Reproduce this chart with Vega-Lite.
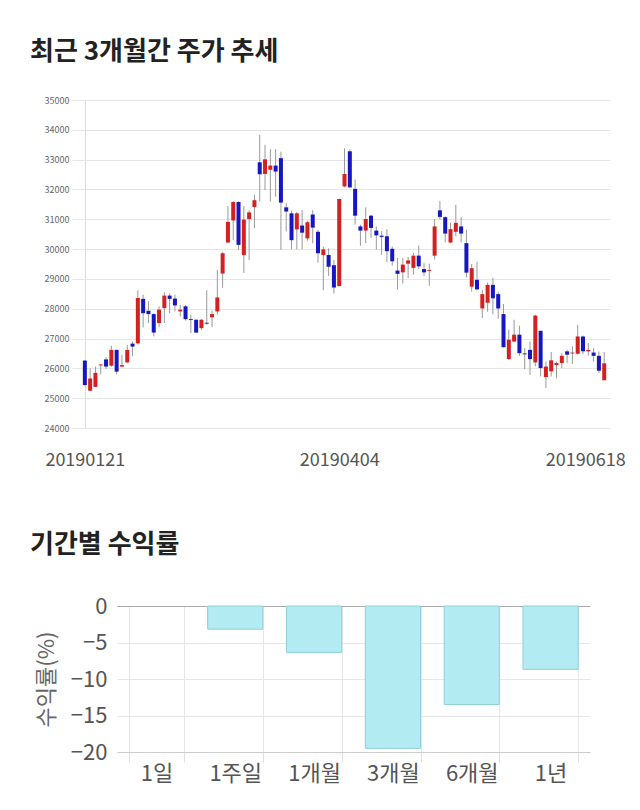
{
  "$schema": "https://vega.github.io/schema/vega-lite/v6.json",
  "padding": {"left": 30, "top": 39, "right": 0, "bottom": 10},
  "autosize": {"type": "pad"},
  "background": "white",
  "config": {"view": {"stroke": null}, "font": "Noto Sans CJK KR"},
  "spacing": 63,
  "vconcat": [
    {
      "title": {"text": "최근 3개월간 주가 추세", "anchor": "start", "frame": "group", "fontSize": 26, "fontWeight": "bold", "color": "#222", "dx": -42, "offset": 31},
      "width": 538,
      "height": 328,
      "data": {"values": [
        {"i":0,"o":26260,"h":26280,"l":25420,"c":25440},
        {"i":1,"o":25250,"h":26000,"l":25240,"c":25660},
        {"i":2,"o":25380,"h":26060,"l":25370,"c":25850},
        {"i":3,"o":26100,"h":26140,"l":25800,"c":26130},
        {"i":4,"o":26300,"h":26370,"l":25980,"c":26060},
        {"i":5,"o":26090,"h":26760,"l":26050,"c":26620},
        {"i":6,"o":26620,"h":26620,"l":25800,"c":25890},
        {"i":7,"o":26060,"h":26450,"l":26030,"c":26110},
        {"i":8,"o":26200,"h":26790,"l":26170,"c":26620},
        {"i":9,"o":26830,"h":26900,"l":26400,"c":26730},
        {"i":10,"o":26840,"h":28620,"l":26800,"c":28360},
        {"i":11,"o":28330,"h":28470,"l":27370,"c":27850},
        {"i":12,"o":27930,"h":28250,"l":27520,"c":27820},
        {"i":13,"o":27820,"h":27850,"l":27070,"c":27200},
        {"i":14,"o":27520,"h":28080,"l":27380,"c":27970},
        {"i":15,"o":28020,"h":28550,"l":27520,"c":28440},
        {"i":16,"o":28440,"h":28510,"l":27850,"c":28330},
        {"i":17,"o":28340,"h":28470,"l":27910,"c":28110},
        {"i":18,"o":27910,"h":28130,"l":27740,"c":27970},
        {"i":19,"o":28080,"h":28130,"l":27600,"c":27650},
        {"i":20,"o":27650,"h":27800,"l":27180,"c":27620},
        {"i":21,"o":27630,"h":27650,"l":27180,"c":27200},
        {"i":22,"o":27350,"h":27650,"l":27290,"c":27630},
        {"i":23,"o":27530,"h":28620,"l":27460,"c":27500},
        {"i":24,"o":27710,"h":27940,"l":27380,"c":27820},
        {"i":25,"o":27910,"h":29300,"l":27800,"c":28380},
        {"i":26,"o":29180,"h":29900,"l":28700,"c":29860},
        {"i":27,"o":30220,"h":31440,"l":30200,"c":30910},
        {"i":28,"o":30960,"h":31600,"l":30300,"c":31580},
        {"i":29,"o":31580,"h":31600,"l":29970,"c":30140},
        {"i":30,"o":29800,"h":31440,"l":29200,"c":30990},
        {"i":31,"o":31010,"h":31300,"l":29630,"c":31230},
        {"i":32,"o":31410,"h":31830,"l":30700,"c":31640},
        {"i":33,"o":32910,"h":33830,"l":31590,"c":32510},
        {"i":34,"o":32520,"h":33500,"l":31980,"c":33010},
        {"i":35,"o":32660,"h":33350,"l":31590,"c":32800},
        {"i":36,"o":32800,"h":33350,"l":31760,"c":32600},
        {"i":37,"o":33050,"h":33270,"l":29970,"c":31560},
        {"i":38,"o":31400,"h":31540,"l":30590,"c":31260},
        {"i":39,"o":31200,"h":31290,"l":29990,"c":30300},
        {"i":40,"o":30660,"h":31250,"l":29990,"c":31200},
        {"i":41,"o":30790,"h":31310,"l":30000,"c":30550},
        {"i":42,"o":30360,"h":30950,"l":30280,"c":30900},
        {"i":43,"o":31160,"h":31310,"l":30190,"c":30720},
        {"i":44,"o":30580,"h":30640,"l":29540,"c":29860},
        {"i":45,"o":29800,"h":30080,"l":28620,"c":29990},
        {"i":46,"o":29800,"h":30020,"l":29100,"c":29410},
        {"i":47,"o":29460,"h":29630,"l":28510,"c":28710},
        {"i":48,"o":28760,"h":31700,"l":28740,"c":31680},
        {"i":49,"o":32100,"h":33380,"l":32070,"c":32520},
        {"i":50,"o":33280,"h":33340,"l":32050,"c":32070},
        {"i":51,"o":32020,"h":32330,"l":30820,"c":31120},
        {"i":52,"o":30760,"h":30820,"l":30110,"c":30620},
        {"i":53,"o":30620,"h":31400,"l":30200,"c":31010},
        {"i":54,"o":31120,"h":31150,"l":30370,"c":30710},
        {"i":55,"o":30620,"h":30760,"l":29980,"c":30460},
        {"i":56,"o":30450,"h":30600,"l":29810,"c":30410},
        {"i":57,"o":30430,"h":30670,"l":29560,"c":29930},
        {"i":58,"o":30010,"h":30090,"l":29440,"c":29590},
        {"i":59,"o":29280,"h":29700,"l":28640,"c":29170},
        {"i":60,"o":29220,"h":29700,"l":28840,"c":29480},
        {"i":61,"o":29510,"h":29740,"l":29030,"c":29620},
        {"i":62,"o":29370,"h":29870,"l":29140,"c":29780},
        {"i":63,"o":29780,"h":30120,"l":29330,"c":29420},
        {"i":64,"o":29330,"h":29530,"l":29090,"c":29220},
        {"i":65,"o":29270,"h":29510,"l":28770,"c":29300},
        {"i":66,"o":29780,"h":31010,"l":29650,"c":30760},
        {"i":67,"o":31300,"h":31610,"l":30990,"c":31080},
        {"i":68,"o":31070,"h":31100,"l":30220,"c":30520},
        {"i":69,"o":30220,"h":30880,"l":30200,"c":30670},
        {"i":70,"o":30580,"h":31490,"l":30430,"c":30880},
        {"i":71,"o":30760,"h":31070,"l":30220,"c":30520},
        {"i":72,"o":30200,"h":30650,"l":29050,"c":29210},
        {"i":73,"o":28740,"h":29500,"l":28570,"c":29360},
        {"i":74,"o":28970,"h":29580,"l":28620,"c":28650},
        {"i":75,"o":28010,"h":28630,"l":27690,"c":28490},
        {"i":76,"o":28200,"h":28880,"l":27900,"c":28800},
        {"i":77,"o":28800,"h":29040,"l":27810,"c":28350},
        {"i":78,"o":28490,"h":28570,"l":27670,"c":28010},
        {"i":79,"o":27820,"h":28160,"l":26700,"c":26710},
        {"i":80,"o":26310,"h":27300,"l":26290,"c":26960},
        {"i":81,"o":26900,"h":27630,"l":26880,"c":27130},
        {"i":82,"o":27130,"h":27430,"l":26420,"c":26510},
        {"i":83,"o":26500,"h":26680,"l":25970,"c":26470},
        {"i":84,"o":26620,"h":26900,"l":25780,"c":26310},
        {"i":85,"o":26200,"h":27800,"l":26070,"c":27770},
        {"i":86,"o":27260,"h":27260,"l":25730,"c":26010},
        {"i":87,"o":25710,"h":26230,"l":25340,"c":26060},
        {"i":88,"o":25900,"h":26550,"l":25730,"c":26270},
        {"i":89,"o":26110,"h":26230,"l":25670,"c":26180},
        {"i":90,"o":26180,"h":26510,"l":26010,"c":26420},
        {"i":91,"o":26570,"h":26620,"l":26180,"c":26460},
        {"i":92,"o":26500,"h":26740,"l":26150,"c":26530},
        {"i":93,"o":26490,"h":27460,"l":26460,"c":27070},
        {"i":94,"o":27070,"h":27100,"l":26480,"c":26570},
        {"i":95,"o":26570,"h":26850,"l":26420,"c":26620},
        {"i":96,"o":26530,"h":26680,"l":26230,"c":26420},
        {"i":97,"o":26420,"h":26570,"l":25840,"c":25920},
        {"i":98,"o":25600,"h":26550,"l":25600,"c":26170}
      ]},
      "encoding": {
        "x": {
          "field": "i", "type": "quantitative",
          "scale": {"domain": [-1.48, 98.15], "nice": false, "zero": false},
          "axis": {
            "values": [0, 48, 98],
            "labelExpr": "datum.value == 0 ? '20190121' : datum.value == 48 ? '20190404' : '20190618'",
            "title": null, "domain": false, "ticks": false,
            "grid": true, "gridColor": "#dddddd",
            "gridOpacity": {"condition": {"test": "datum.value == 0", "value": 1}, "value": 0},
            "labelFontSize": 18, "labelColor": "#555555", "labelPadding": 23,
            "labelFlush": false,
            "labelOffset": {"condition": {"test": "datum.value == 98", "value": -19}, "value": 0}
          }
        },
        "y": {
          "field": "l", "type": "quantitative",
          "scale": {"domain": [24000, 35000], "nice": false, "zero": false},
          "axis": {
            "values": [24000, 25000, 26000, 27000, 28000, 29000, 30000, 31000, 32000, 33000, 34000, 35000],
            "format": "d", "labelOverlap": false,
            "title": null, "domain": false, "ticks": false,
            "labelFontSize": 9, "labelColor": "#666666", "labelPadding": 3,
            "gridColor": "#e6e6e6"
          }
        }
      },
      "layer": [
        {
          "mark": {"type": "rule", "color": "#999999", "strokeWidth": 1},
          "encoding": {
            "y2": {"field": "h"}
          }
        },
        {
          "mark": {"type": "bar", "size": 4},
          "encoding": {
            "y": {
              "field": "o", "type": "quantitative",
              "axis": {
                "values": [24000, 25000, 26000, 27000, 28000, 29000, 30000, 31000, 32000, 33000, 34000, 35000],
                "format": "d", "labelOverlap": false,
                "title": null, "domain": false, "ticks": false,
                "labelFontSize": 9, "labelColor": "#666666", "labelPadding": 3,
                "gridColor": "#e6e6e6"
              }
            },
            "y2": {"field": "c"},
            "color": {"condition": {"test": "datum.c >= datum.o", "value": "#d42020"}, "value": "#1616c2"}
          }
        }
      ]
    },
    {
      "title": {"text": "기간별 수익률", "anchor": "start", "frame": "group", "fontSize": 26, "fontWeight": "bold", "color": "#222", "dx": -42, "offset": 37},
      "width": 518,
      "height": 146,
      "data": {"values": [
        {"period": "1일", "r": 0},
        {"period": "1주일", "r": -3.18},
        {"period": "1개월", "r": -6.36},
        {"period": "3개월", "r": -19.5},
        {"period": "6개월", "r": -13.5},
        {"period": "1년", "r": -8.68}
      ]},
      "mark": {"type": "bar", "color": "#b2ebf2", "strokeWidth": 1},
      "encoding": {
        "x": {
          "field": "period", "type": "nominal", "sort": null,
          "scale": {"range": [45, 518], "paddingInner": 0.3, "paddingOuter": 0.15},
          "axis": {
            "title": null, "labelAngle": 0, "labelFontSize": 22, "labelColor": "#555555",
            "tickBand": "extent", "grid": true, "gridColor": "#e6e6e6",
            "ticks": true, "tickColor": "#e0e0e0", "tickSize": 10,
            "domain": true, "domainColor": "#cccccc", "labelPadding": 1
          }
        },
        "y": {
          "field": "r", "type": "quantitative",
          "scale": {"domain": [-20, 0], "nice": false},
          "axis": {
            "values": [0, -5, -10, -15, -20],
            "offset": -45,
            "title": "수익률(%)", "titleFontSize": 22, "titleColor": "#666666", "titleFontWeight": "normal",
            "titlePadding": 12,
            "labelFontSize": 22, "labelColor": "#555555", "labelPadding": 10,
            "domain": false, "ticks": false,
            "gridColor": {"condition": {"test": "datum.value == 0", "value": "#aaaaaa"}, "value": "#e6e6e6"}
          }
        },
        "stroke": {"condition": {"test": "datum.r == 0", "value": null}, "value": "#8fd0da"}
      }
    }
  ]
}
